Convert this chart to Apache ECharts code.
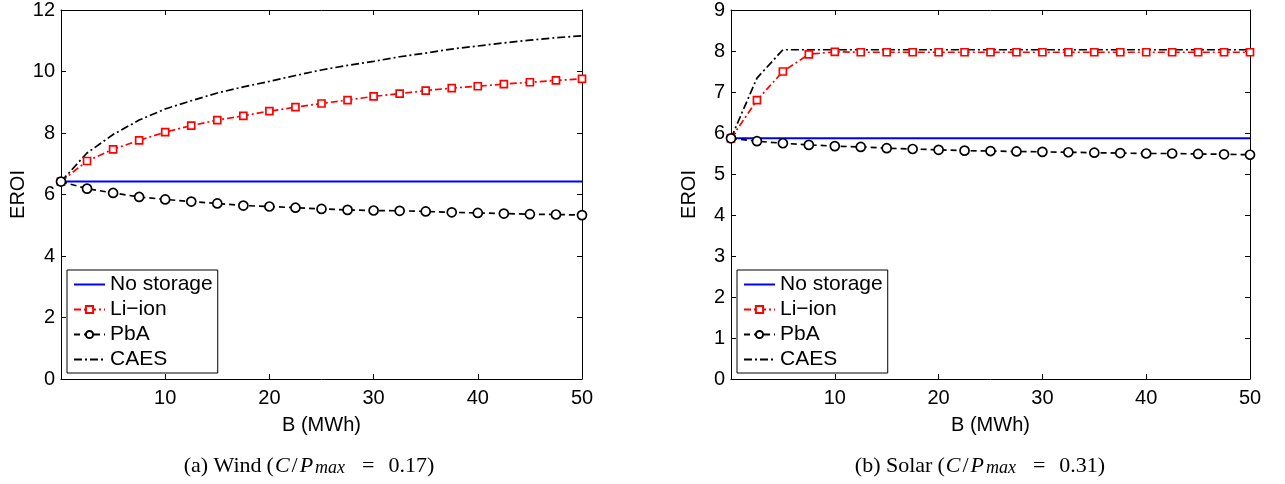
<!DOCTYPE html>
<html><head><meta charset="utf-8">
<script src="https://cdn.jsdelivr.net/npm/echarts@6/dist/echarts.min.js"></script>
<style>html,body{margin:0;padding:0;background:#fff}#c{width:1285px;height:484px}</style>
</head><body><div id="c"></div>
<script>
// ---- data ----
const B = [0, 2.5, 5, 7.5, 10, 12.5, 15, 17.5, 20, 22.5, 25, 27.5, 30, 32.5, 35, 37.5, 40, 42.5, 45, 47.5, 50];
const seriesNames = ['No storage', 'Li\u2212ion', 'PbA', 'CAES'];

const windNoStorage = [6.42, 6.42, 6.42, 6.42, 6.42, 6.42, 6.42, 6.42, 6.42, 6.42, 6.42, 6.42, 6.42, 6.42, 6.42, 6.42, 6.42, 6.42, 6.42, 6.42, 6.42];
const windLiIon = [6.42, 7.09, 7.47, 7.76, 8.03, 8.24, 8.42, 8.56, 8.71, 8.84, 8.96, 9.07, 9.19, 9.28, 9.38, 9.46, 9.52, 9.59, 9.65, 9.71, 9.76];
const windPbA = [6.42, 6.19, 6.05, 5.92, 5.84, 5.77, 5.71, 5.64, 5.61, 5.57, 5.53, 5.50, 5.48, 5.47, 5.45, 5.42, 5.40, 5.38, 5.36, 5.35, 5.33];
const windCAES = [6.42, 7.35, 7.95, 8.42, 8.78, 9.05, 9.30, 9.50, 9.68, 9.87, 10.05, 10.20, 10.33, 10.48, 10.60, 10.73, 10.83, 10.93, 11.02, 11.10, 11.16];

const solarNoStorage = [5.87, 5.87, 5.87, 5.87, 5.87, 5.87, 5.87, 5.87, 5.87, 5.87, 5.87, 5.87, 5.87, 5.87, 5.87, 5.87, 5.87, 5.87, 5.87, 5.87, 5.87];
const solarLiIon = [5.87, 6.80, 7.50, 7.92, 7.98, 7.97, 7.97, 7.97, 7.97, 7.97, 7.97, 7.97, 7.97, 7.97, 7.97, 7.97, 7.97, 7.97, 7.97, 7.97, 7.97];
const solarPbA = [5.87, 5.80, 5.75, 5.71, 5.68, 5.66, 5.63, 5.61, 5.59, 5.57, 5.56, 5.55, 5.54, 5.53, 5.52, 5.51, 5.50, 5.50, 5.49, 5.48, 5.47];
const solarCAES = [5.87, 7.34, 8.03, 8.03, 8.03, 8.03, 8.03, 8.03, 8.03, 8.03, 8.03, 8.03, 8.03, 8.03, 8.03, 8.03, 8.03, 8.03, 8.03, 8.03, 8.03];

const xTicks = [0, 10, 20, 30, 40, 50];
const windYTicks = [0, 2, 4, 6, 8, 10, 12];
const solarYTicks = [0, 1, 2, 3, 4, 5, 6, 7, 8, 9];

const captionLabels = ['(a) Wind', '(b) Solar'];
const captionRatios = ['0.17', '0.31'];

// ---- chart ----
const FONT = 'Liberation Sans, Arial, sans-serif';
const SERIF = 'Liberation Serif, Times New Roman, serif';
const pairs = ys => B.map((b, i) => [b, ys[i]]);

function xAxes(gi) {
  const base = {
    gridIndex: gi, type: 'value', min: xTicks[0], max: xTicks[xTicks.length - 1],
    interval: xTicks[1] - xTicks[0],
    axisLine: { show: true, onZero: false, lineStyle: { color: '#000', width: 1 } },
    axisTick: { show: true, inside: true, length: 5, lineStyle: { color: '#000' } },
    splitLine: { show: false }
  };
  return [
    Object.assign({}, base, {
      position: 'bottom',
      name: 'B (MWh)', nameLocation: 'middle', nameGap: 36,
      nameTextStyle: { fontFamily: FONT, fontSize: 20, color: '#000' },
      axisLabel: { fontFamily: FONT, fontSize: 20, color: '#000', margin: 9,
        formatter: v => (v === 0 ? '' : String(v)) }
    }),
    Object.assign({}, base, { position: 'top', axisLabel: { show: false } })
  ];
}
function yAxes(gi, ticks) {
  const base = {
    gridIndex: gi, type: 'value', min: ticks[0], max: ticks[ticks.length - 1],
    interval: ticks[1] - ticks[0],
    axisLine: { show: true, onZero: false, lineStyle: { color: '#000', width: 1 } },
    axisTick: { show: true, inside: true, length: 5, lineStyle: { color: '#000' } },
    splitLine: { show: false }
  };
  return [
    Object.assign({}, base, {
      position: 'left',
      name: 'EROI', nameLocation: 'middle', nameGap: 32, nameRotate: 90,
      nameTextStyle: { fontFamily: FONT, fontSize: 20, color: '#000' },
      axisLabel: { fontFamily: FONT, fontSize: 20, color: '#000', margin: 6 }
    }),
    Object.assign({}, base, { position: 'right', axisLabel: { show: false } })
  ];
}
function seriesFor(xi, yi, data) {
  return [
    { name: seriesNames[0], type: 'line', xAxisIndex: xi, yAxisIndex: yi, data: pairs(data[0]),
      symbol: 'none', lineStyle: { color: '#0000ff', width: 2, type: 'solid' }, itemStyle: { color: '#0000ff' }, z: 2 },
    { name: seriesNames[1], type: 'line', xAxisIndex: xi, yAxisIndex: yi, data: pairs(data[1]),
      symbol: 'rect', symbolSize: 7,
      lineStyle: { color: '#ff0000', width: 1.7, type: [7, 3, 2, 3] },
      itemStyle: { color: '#ffffff', borderColor: '#ff0000', borderWidth: 1.7 }, z: 3 },
    { name: seriesNames[2], type: 'line', xAxisIndex: xi, yAxisIndex: yi, data: pairs(data[2]),
      symbol: 'circle', symbolSize: 9,
      lineStyle: { color: '#000000', width: 1.7, type: [6, 4] },
      itemStyle: { color: '#ffffff', borderColor: '#000000', borderWidth: 1.7 }, z: 4 },
    { name: seriesNames[3], type: 'line', xAxisIndex: xi, yAxisIndex: yi, data: pairs(data[3]),
      symbol: 'none',
      lineStyle: { color: '#000000', width: 1.7, type: [8, 3, 2, 3] },
      itemStyle: { color: '#000000' }, z: 3 }
  ];
}
const hiddenSym = { color: 'transparent', borderColor: 'transparent', borderWidth: 0, opacity: 0 };
function legendAt(left) {
  return {
    left: left, top: 270, orient: 'vertical', selectedMode: false,
    data: [
      { name: seriesNames[0], itemStyle: hiddenSym },
      { name: seriesNames[1] },
      { name: seriesNames[2] },
      { name: seriesNames[3], itemStyle: hiddenSym }
    ],
    itemWidth: 31, itemHeight: 9, itemGap: 4,
    padding: [4, 5, 3, 6], borderColor: '#000', borderWidth: 1, backgroundColor: '#fff',
    textStyle: { fontFamily: FONT, fontSize: 21, color: '#000', lineHeight: 21 }
  };
}
const capRich = {
  r: { fontFamily: SERIF, fontSize: 22, fill: '#000', color: '#000', lineHeight: 22 },
  p: { fontFamily: SERIF, fontSize: 22, fill: '#000', color: '#000', lineHeight: 22, padding: [0, 0, 0, 5] },
  i: { fontFamily: SERIF, fontSize: 22, fill: '#000', color: '#000', fontStyle: 'italic', lineHeight: 22, padding: [0, 2, 0, 1] },
  sl: { fontFamily: SERIF, fontSize: 22, fill: '#000', color: '#000', lineHeight: 22, padding: [0, 2, 0, 0] },
  i2: { fontFamily: SERIF, fontSize: 22, fill: '#000', color: '#000', fontStyle: 'italic', lineHeight: 22, padding: [0, 2, 0, 0] },
  s: { fontFamily: SERIF, fontSize: 18, fill: '#000', color: '#000', fontStyle: 'italic', lineHeight: 11, verticalAlign: 'bottom', padding: [0, 17, 0, 0] },
  eq: { fontFamily: SERIF, fontSize: 22, fill: '#000', color: '#000', lineHeight: 22, padding: [0, 14, 0, 0] },
  n: { fontFamily: SERIF, fontSize: 22, fill: '#000', color: '#000', lineHeight: 22 }
};
function caption(cx, label, value) {
  return {
    type: 'text', x: cx, y: 466, silent: true,
    style: {
      text: '{r|' + label + '}{p|(}{i|C}{sl|/}{i2|P}{s|max}{eq|=}{n|' + value + ')}',
      rich: capRich, align: 'center', verticalAlign: 'middle',
      fill: '#000', font: '22px ' + SERIF
    }
  };
}

const chart = echarts.init(document.getElementById('c'), null, { renderer: 'canvas' });
chart.setOption({
  animation: false,
  backgroundColor: '#fff',
  graphic: [caption(309, captionLabels[0], captionRatios[0]), caption(980, captionLabels[1], captionRatios[1])],
  legend: [legendAt(67), legendAt(737)],
  grid: [
    { left: 61, top: 10, width: 521, height: 369 },
    { left: 731, top: 10, width: 519, height: 369 }
  ],
  xAxis: xAxes(0).concat(xAxes(1)),
  yAxis: yAxes(0, windYTicks).concat(yAxes(1, solarYTicks)),
  series: seriesFor(0, 0, [windNoStorage, windLiIon, windPbA, windCAES])
    .concat(seriesFor(2, 2, [solarNoStorage, solarLiIon, solarPbA, solarCAES]))
});
</script></body></html>
